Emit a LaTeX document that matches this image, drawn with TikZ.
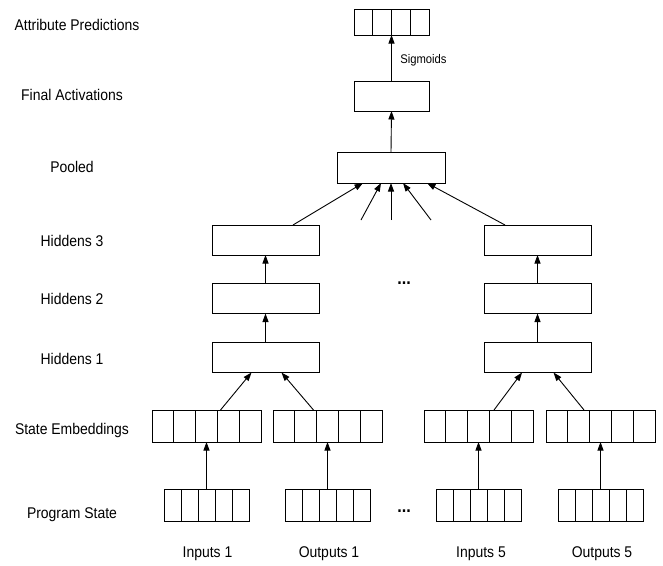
\documentclass[tikz,border=0pt]{standalone}
\usepackage{fontspec}
\setmainfont{Liberation Sans}[FakeStretch=0.9]
\usetikzlibrary{arrows.meta,calc}
\begin{document}
\begin{tikzpicture}[x=1pt,y=-1pt,line width=0.9pt,
  font=\fontsize{15.5}{18}\selectfont,
  box/.style={draw,inner sep=0,outer sep=0,minimum width=107pt,minimum height=30pt},
  vec/.style={draw,inner sep=0,outer sep=0,minimum height=32pt,
    path picture={\foreach \k in {2,...,#1}
      \draw ($(path picture bounding box.north west)!{(\k-1)/#1}!(path picture bounding box.north east)$)
         -- ($(path picture bounding box.south west)!{(\k-1)/#1}!(path picture bounding box.south east)$);}},
  emb/.style={vec=5,minimum width=109pt},
  inp/.style={vec=5,minimum width=85pt},
  lbl/.style={anchor=base},
  more/.style={font=\fontsize{18}{20}\bfseries\selectfont},
  arr/.style={-{Triangle[length=8.5pt,width=6pt]}}]
\useasboundingbox (0,0) rectangle (663,565);

% row names
\node[lbl] (tattr) at (77,30) {Attribute Predictions};
\node[lbl] (tfin) at (72,100) {Final Activations};
\node[lbl] (tpool) at (72,172.5) {Pooled};
\node[lbl] (th3) at (72,246.5) {Hiddens 3};
\node[lbl] (th2) at (72,304.5) {Hiddens 2};
\node[lbl] (th1) at (72,364.5) {Hiddens 1};
\node[lbl] (tse) at (72,434.5) {State Embeddings};
\node[lbl] (tps) at (72,518.5) {Program State};

% top of the network
\node[vec=4,minimum width=75pt,minimum height=26pt] (attr) at (391.5,22) {};
\node[box,minimum width=75pt] (fin) at (391.5,96) {};
\node[box,minimum width=108pt,minimum height=31pt] (pool) at (391,167.5) {};

% one tower per example
\node[box] (hl3) at (265.5,240) {};
\node[box] (hl2) at (265.5,298.5) {};
\node[box] (hl1) at (265.5,357.5) {};
\node[box] (hr3) at (537.5,240) {};
\node[box] (hr2) at (537.5,298.5) {};
\node[box] (hr1) at (537.5,357.5) {};

\node[emb] (se1) at (206.5,426) {};
\node[emb] (se2) at (327.5,426) {};
\node[emb] (se3) at (478.5,426) {};
\node[emb] (se4) at (600.5,426) {};
\node[inp] (ps1) at (206.5,505) {};
\node[inp] (ps2) at (327.5,505) {};
\node[inp] (ps3) at (478.5,505) {};
\node[inp] (ps4) at (600.5,505) {};

\node[lbl] (in1) at (207.5,557.5) {Inputs 1};
\node[lbl] (out1) at (329,557.5) {Outputs 1};
\node[lbl] (in5) at (481,557.5) {Inputs 5};
\node[lbl] (out5) at (602,557.5) {Outputs 5};

\node[more,anchor=base] (dotsa) at (404,284) {...};
\node[more,anchor=base] (dotsb) at (404,512) {...};

% arrows
\foreach \i in {1,...,4} \draw[arr] (ps\i.north) -- (se\i.south);
\draw[arr] ([xshift=14pt]se1.north) -- ([xshift=-14pt]hl1.south);
\draw[arr] ([xshift=-14pt]se2.north) -- ([xshift=16pt]hl1.south);
\draw[arr] ([xshift=15.5pt]se3.north) -- ([xshift=-15.5pt]hr1.south);
\draw[arr] ([xshift=-16.5pt]se4.north) -- ([xshift=16pt]hr1.south);
\foreach \s in {l,r} {
  \draw[arr] (h\s1.north) -- (h\s2.south);
  \draw[arr] (h\s2.north) -- (h\s3.south);
}
\draw[arr] ([xshift=27.5pt]hl3.north) -- ([xshift=-28pt]pool.south);
\draw[arr] ([xshift=-32.5pt]hr3.north) -- ([xshift=36pt]pool.south);
\coordinate (pa) at (361,220);
\coordinate (pb) at (391,220);
\coordinate (pc) at (431,220);
\draw[arr] (pa) -- ([xshift=-10pt]pool.south);
\draw[arr] (pb) -- (pool.south);
\draw[arr] (pc) -- ([xshift=12pt]pool.south);
\draw[arr] (pool.north) -- (fin.south);
\draw[arr] (fin.north) -- (attr.south)
  node[pos=0.45,right=5pt,font=\fontsize{12.5}{14}\selectfont] {Sigmoids};
\end{tikzpicture}
\end{document}
